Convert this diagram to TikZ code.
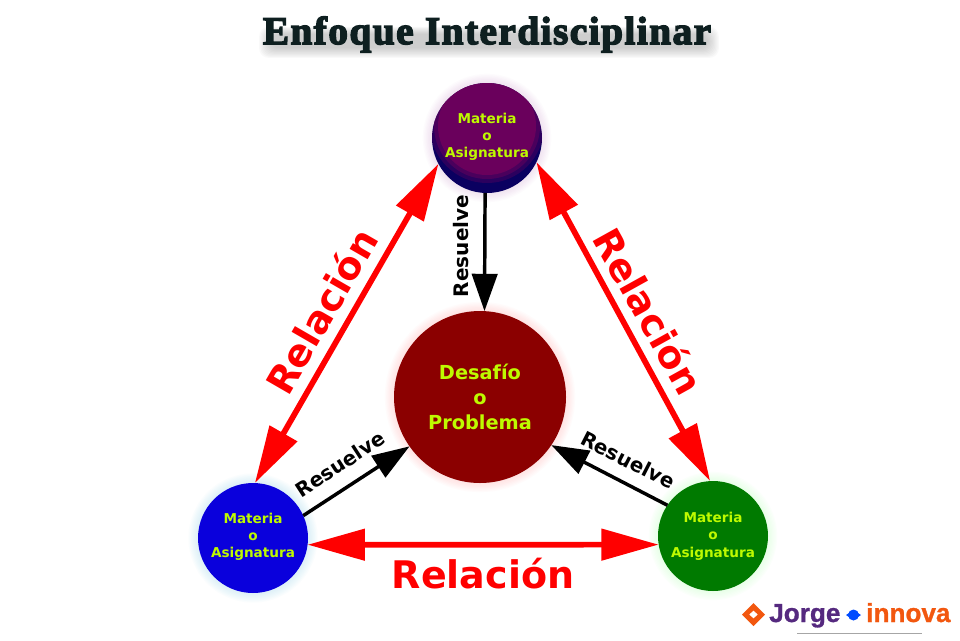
\documentclass[tikz,border=0pt]{standalone}
\usepackage{fontspec}
\usetikzlibrary{arrows.meta}
\setmainfont{DejaVu Sans}
\newfontfamily\titlefont[LetterSpace=3.7,FakeBold=3.5]{Liberation Serif Bold}
\newfontfamily\logofont[FakeBold=1]{Liberation Sans Bold}
\definecolor{limetxt}{HTML}{BEFA00}
\definecolor{redline}{HTML}{FF0000}
\definecolor{logoorange}{HTML}{F2570F}
\definecolor{logopurple}{HTML}{55297F}
\definecolor{titlecol}{HTML}{0E1F20}
\definecolor{ballpurple}{HTML}{6A005C}
\definecolor{ballnavy}{HTML}{0A0060}
\definecolor{ballblue}{HTML}{0A00DC}
\definecolor{ballgreen}{HTML}{007A00}
\definecolor{hubred}{HTML}{8B0000}
\newcommand{\softglow}[4]{%
  \foreach \k in {1,...,7}{\fill[#4,opacity=0.035] (#1,#2) circle ({#3+\k*1.3});}}
\tikzset{
  ball/.style={circle,inner sep=0pt,outer sep=0pt,minimum size=82.5pt,text=limetxt,
    align=center,font=\bfseries\fontsize{10.2}{13}\selectfont},
  hub/.style={circle,inner sep=0pt,outer sep=0pt,minimum size=129pt,text=limetxt,
    align=center,font=\bfseries\fontsize{14.5}{18.6}\selectfont},
  relarrow/.style={draw=redline,line width=4.3pt,{Triangle[length=43pt,width=23pt,fill=redline]}-{Triangle[length=43pt,width=23pt,fill=redline]}},
  solvearrow/.style={draw=black,line width=2.6pt,-{Triangle[length=28pt,width=19pt,fill=black]}},
  rellabel/.style={text=redline,font=\bfseries\fontsize{28.5}{30}\selectfont,inner sep=0pt},
  solvelabel/.style={text=black,font=\bfseries\fontsize{15}{16}\selectfont,inner sep=0pt},
}
\begin{document}
\begin{tikzpicture}[x=0.75pt,y=-0.75pt]
\fill[white] (0,0) rectangle (960,640);
\useasboundingbox (0,0) rectangle (960,640);
% title haze
\foreach \k in {0,...,9}{
  \fill[gray,opacity=0.045,rounded corners=7pt] (270-\k*1.2,34-\k*.8) rectangle (708+\k*1.2,48+\k*1.1);}
\node[inner sep=0pt,text=titlecol,font=\titlefont\fontsize{29.5}{32}\selectfont] (title) at (487,34.5) {Enfoque Interdisciplinar};
% glows
\softglow{487}{138}{55}{violet!40}
\softglow{253}{538}{55.5}{cyan!50}
\softglow{713}{536}{55}{green!35}
\softglow{480}{397}{86}{red!40}
% nodes
\node[ball,fill=ballnavy,text depth=4pt,
  path picture={
    \fill[ballpurple,opacity=0.35] ([yshift=9pt]path picture bounding box.center) circle (57pt*0.75);
    \fill[ballpurple,opacity=0.5] ([yshift=9pt]path picture bounding box.center) circle (53pt*0.75);
    \fill[ballpurple] ([yshift=9pt]path picture bounding box.center) circle (49pt*0.75);
  }] (top) at (487,138) {Materia\\o\\Asignatura};
\node[ball,fill=ballblue,text depth=4pt] (left) at (253,538) {Materia\\o\\Asignatura};
\node[ball,fill=ballgreen] (right) at (713,536) {Materia\\o\\Asignatura};
\node[hub,fill=hubred] (hubnode) at (480,397) {Desafío\\o\\Problema};
% connectors
\draw[relarrow] (top.208) -- (left.88);
\draw[relarrow] (top.334) -- (right.93);
\draw[relarrow] (left.-7) -- (right.189);
\draw[solvearrow] (top.268) -- (hubnode.87);
\draw[solvearrow] (left.24) -- (hubnode.215);
\draw[solvearrow] (right.146) -- (hubnode.326);
% labels
\node[rellabel,rotate=60] (rel1) at (321,311) {Relación};
\node[rellabel,rotate=-61] (rel2) at (649,311) {Relación};
\node[rellabel] (rel3) at (483,574) {Relación};
\node[solvelabel,rotate=90] (res1) at (461,246) {Resuelve};
\node[solvelabel,rotate=33] (res2) at (340,464) {Resuelve};
\node[solvelabel,rotate=-27] (res3) at (628,460) {Resuelve};
% logo
\fill[logoorange,even odd rule] (742,614.5) -- (753.5,603) -- (765,614.5) -- (753.5,626) -- cycle
  (749,614.5) -- (753.5,618.5) -- (758,614.5) -- (753.5,610.5) -- cycle;
\node[inner sep=0pt,anchor=base west,text=logopurple,font=\logofont\fontsize{19.6}{20}\selectfont] (logoa) at (769,622) {Jorge};
\fill[blue!70!cyan] (853.5,615) circle (5.5);
\fill[blue!70!cyan] (846,615) -- (849,613) -- (849,617) -- cycle (861,615) -- (858,613) -- (858,617) -- cycle;
\node[inner sep=0pt,anchor=base west,text=logoorange,font=\logofont\fontsize{19.6}{20}\selectfont] (logob) at (866,622) {innova};
\draw[gray!70,line width=0.6pt] (797,633) -- (922,633);
\end{tikzpicture}
\end{document}
